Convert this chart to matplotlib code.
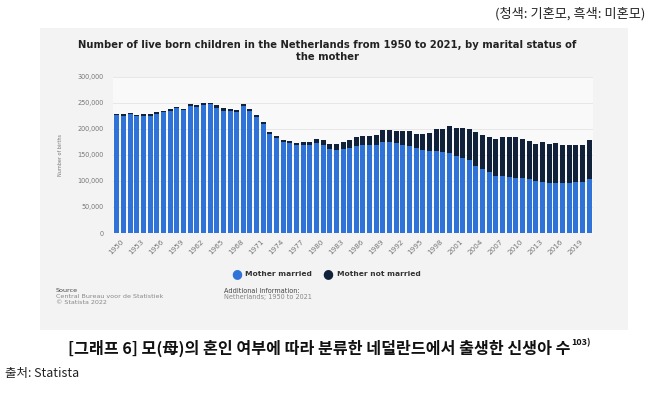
import numpy as np
import matplotlib
matplotlib.use("Agg")
import matplotlib.pyplot as plt
import matplotlib.transforms as mtrans
from matplotlib.patches import Rectangle
from matplotlib.ticker import FuncFormatter

# births per year, in thousands
years = list(range(1950, 2022))
married = [226.2, 224.8, 228.0, 224.5, 225.0, 225.7, 229.0, 232.3, 234.8, 239.9,
           235.9, 244.8, 242.3, 246.8, 247.2, 241.2, 235.5, 233.9, 232.5, 243.5,
           233.9, 222.5, 209.6, 190.8, 182.0, 174.1, 172.9, 168.5, 170.1, 168.7,
           173.8, 169.8, 162.1, 158.7, 161.4, 163.3, 168.0, 169.5, 168.8, 170.0,
           175.5, 175.0, 172.5, 170.0, 167.0, 163.0, 160.0, 157.5, 157.0, 156.0,
           154.5, 147.5, 144.0, 139.5, 129.5, 123.0, 116.5, 110.5, 110.0, 107.5,
           106.5, 105.0, 103.0, 100.0, 98.5, 97.0, 97.0, 96.5, 97.0, 97.5,
           98.5, 104.0]
not_married = [3.5, 3.3, 3.2, 3.1, 3.1, 3.0, 3.1, 3.2, 3.2, 3.2,
               3.2, 3.3, 3.4, 3.5, 3.7, 4.0, 4.2, 4.4, 4.6, 5.0,
               5.0, 4.7, 4.5, 4.2, 4.0, 3.8, 4.2, 4.8, 5.5, 6.3,
               7.5, 8.8, 10.0, 11.5, 13.0, 14.8, 16.5, 17.2, 17.8, 19.0,
               22.5, 23.7, 24.2, 25.7, 28.6, 27.5, 29.5, 34.9, 42.4, 44.4,
               52.1, 55.1, 58.1, 60.8, 64.5, 64.9, 68.6, 70.8, 74.6, 77.4,
               77.9, 75.1, 73.0, 71.3, 76.7, 73.5, 75.5, 73.3, 71.5, 72.2,
               70.2, 75.2]
yticks = [0, 50000, 100000, 150000, 200000, 250000, 300000]

married = np.array(married) * 1000
not_married = np.array(not_married) * 1000

blue = '#2f72d8'
navy = '#12213a'

W, H = 654, 401
fig = plt.figure(figsize=(W / 100, H / 100), dpi=100)
fig.patch.set_facecolor('white')

# light grey statista panel, kept behind the axes
fig.patches.append(Rectangle((40 / W, 1 - 330 / H), 588 / W, 302 / H,
                             transform=fig.transFigure, facecolor='#f3f3f3',
                             edgecolor='none', zorder=-10))

ax = fig.add_axes([113 / W, 1 - 233 / H, 480 / W, 156 / H])
ax.set_facecolor('#f9f9f9')
x = np.arange(len(years))
ax.bar(x, married, width=0.75, color=blue, zorder=3)
ax.bar(x, not_married, bottom=married, width=0.75, color=navy, zorder=3)

ax.set_xlim(-0.6, len(years) - 0.4)
ax.set_ylim(0, 300000)
ax.set_yticks(yticks)
ax.yaxis.set_major_formatter(FuncFormatter(lambda v, p: f'{int(v):,}'))
ax.tick_params(axis='y', length=0, labelsize=4.7, labelcolor='#777777', pad=7)
ax.grid(axis='y', color='#e4e4e4', linewidth=0.6, zorder=0)
tick_idx = x[::3]
ax.set_xticks(tick_idx)
ax.set_xticklabels([str(years[i]) for i in tick_idx], rotation=45,
                   ha='right', rotation_mode='anchor')
ax.tick_params(axis='x', length=0, labelsize=5.2, labelcolor='#777777', pad=4)
shift = mtrans.ScaledTranslation(4 / 100, 0, fig.dpi_scale_trans)
for lab in ax.get_xticklabels():
    lab.set_transform(lab.get_transform() + shift)
for s in ax.spines.values():
    s.set_visible(False)
ax.set_ylabel('Number of births', fontsize=3.5, color='#777777', labelpad=10)

fig.text(327 / W, 1 - 45 / H,
         'Number of live born children in the Netherlands from 1950 to 2021, by marital status of',
         ha='center', va='center', fontsize=7.2, fontweight='bold', color='#222222')
fig.text(327 / W, 1 - 57 / H, 'the mother', ha='center', va='center',
         fontsize=7.2, fontweight='bold', color='#222222')

# legend
fig.text(237 / W, 1 - 274 / H, '\u25cf', color=blue, fontsize=9, ha='center', va='center')
fig.text(245 / W, 1 - 274 / H, 'Mother married', fontsize=5.4, fontweight='bold',
         color='#333333', ha='left', va='center')
fig.text(328 / W, 1 - 274 / H, '\u25cf', color=navy, fontsize=9, ha='center', va='center')
fig.text(337 / W, 1 - 274 / H, 'Mother not married', fontsize=5.4, fontweight='bold',
         color='#333333', ha='left', va='center')

# source block
fig.text(56 / W, 1 - 291 / H, 'Source', fontsize=4.6, color='#444444', va='center')
fig.text(56 / W, 1 - 297 / H, 'Central Bureau voor de Statistiek', fontsize=4.6,
         color='#888888', va='center')
fig.text(56 / W, 1 - 303 / H, '\u00a9 Statista 2022', fontsize=4.6, color='#888888', va='center')
fig.text(224 / W, 1 - 291 / H, 'Additional Information:', fontsize=4.7, color='#444444', va='center')
fig.text(224 / W, 1 - 297 / H, 'Netherlands; 1950 to 2021', fontsize=4.7,
         color='#888888', va='center')

kr = ['Noto Sans CJK KR', 'DejaVu Sans']
fig.text(645 / W, 1 - 14 / H, '(청색: 기혼모, 흑색: 미혼모)', family=kr,
         fontsize=9.5, color='#222222', ha='right', va='center')
cap = fig.text(68 / W, 1 - 348 / H,
               '[그래프 6] 모(母)의 혼인 여부에 따라 분류한 네덜란드에서 출생한 신생아 수',
               family=kr, fontsize=11.6, fontweight='bold', color='#111111',
               ha='left', va='center')
# put the footnote mark right after the caption
r = fig.canvas.get_renderer()
bb = cap.get_window_extent(renderer=r)
fig.text(bb.x1 / W + 1 / W, 1 - 343 / H, '103)', family=kr, fontsize=6.5, fontweight='bold',
         color='#111111', ha='left', va='center')
fig.text(5 / W, 1 - 373 / H, '출처: Statista', family=kr, fontsize=9,
         color='#222222', ha='left', va='center')

fig.savefig('out.png', dpi=100)
